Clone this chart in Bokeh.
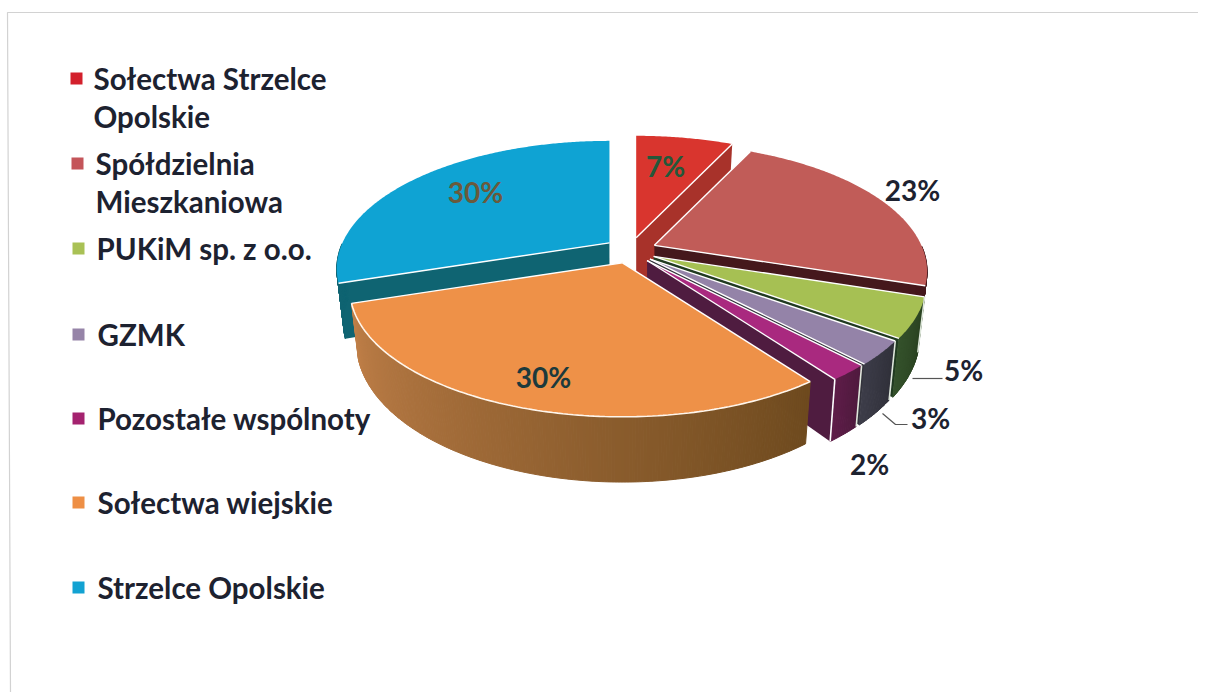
import numpy as np
from bokeh.plotting import figure
from bokeh.embed import file_html
from bokeh.resources import INLINE
from bokeh.core.properties import value

categories = ["Sołectwa Strzelce\nOpolskie", "Spółdzielnia\nMieszkaniowa", "PUKiM sp. z o.o.", "GZMK",
              "Pozostałe wspólnoty", "Sołectwa wiejskie", "Strzelce Opolskie"]
values = [7, 23, 5, 3, 2, 30, 30]

top_colors = ["#d9352e", "#c15c58", "#a6c053", "#9483a8", "#a9297f", "#ee9148", "#0fa3d3"]
legend_colors = ["#d3202c", "#c4555a", "#a9c155", "#9684a8", "#a4226f", "#ee8f45", "#12a2d2"]
radial_colors = ["#a8322a", "#45181c", "#203a20", "#33333c", "#4f1c40", "#8a5a28", "#0f6472"]
wall_left = ["#a8322a", "#45181c", "#33502a", "#3c3c48", "#5e1c48", "#c07f48", "#0f6472"]
wall_right = ["#a8322a", "#45181c", "#28401f", "#30303a", "#4f1a3e", "#6e4a1e", "#0f6472"]

legend_y = [78, 163, 248, 334, 418, 502, 587]
legend_text_x = [93, 95, 96, 97, 97, 97, 97]
label_pos = [(665, 165), (912, 189), (963, 369), (930, 417), (869, 463), (543, 376), (475, 191)]
label_colors = ["#24583a", "#1d2230", "#1d2230", "#1d2230", "#1d2230", "#1c3a3c", "#6a5a3c"]

CX, CY = 630, 250     # pie centre on the page
A, B, K = 267, 122.7, 0.203   # ellipse radii and perspective
EX, EY = 26, 13       # explosion
DEPTH = 52
W, H = 1198, 692

p = figure(width=W, height=H, x_range=(0, W), y_range=(H, 0),
           toolbar_location=None, output_backend="svg", min_border=0)
p.axis.visible = False
p.grid.visible = False
p.outline_line_color = None
p.background_fill_color = "#ffffff"
p.border_fill_color = "#ffffff"

FONT = value("Lato")


def proj(deg, ax, ay, r=1.0):
    t = np.radians(deg)
    u, v = np.sin(t) * r, np.cos(t) * r
    s = 1 / (1 + K * v)
    return ax + A * u * s, ay - B * v * s, s


def lower(x, y, s, ax):
    return x - 0.025 * (x - ax), y + DEPTH * s


def mix(c1, c2, f):
    a = [int(c1[i:i + 2], 16) for i in (1, 3, 5)]
    b = [int(c2[i:i + 2], 16) for i in (1, 3, 5)]
    return "#%02x%02x%02x" % tuple(int(round(a[i] + (b[i] - a[i]) * f)) for i in range(3))


total = sum(values)
edges = np.cumsum([0] + values) / total * 360
order = [6, 0, 1, 2, 3, 4, 5]    # back to front
for i in order:
    a0, a1 = edges[i], edges[i + 1]
    mid = np.radians((a0 + a1) / 2)
    ax, ay = CX + EX * np.sin(mid), CY - EY * np.cos(mid)
    angs = np.linspace(a0, a1, max(8, int((a1 - a0) * 2)))
    xs, ys, ss = proj(angs, ax, ay)

    # radial wall that faces the viewer
    wall_a = None
    if a1 <= 144.1:
        wall_a = a1
    elif a0 >= 180:
        wall_a = a0
    if wall_a is not None:
        x1, y1, s1 = proj(wall_a, ax, ay)
        xb, yb = lower(x1, y1, s1, ax)
        p.patch([ax, x1, xb, ax], [ay, y1, yb, ay + DEPTH], fill_color=radial_colors[i], line_color=None)

    # outer wall, front part only, in shaded strips (angles run right to left)
    vis = [a for a in angs if np.cos(np.radians(a)) < 0.0]
    if len(vis) > 1:
        vis = np.array(vis)
        vx, vy, vs = proj(vis, ax, ay)
        bx, by = lower(vx, vy, vs, ax)
        n = len(vis) - 1
        for j in range(n):
            f = 1 - j / max(n - 1, 1)
            col = mix(wall_left[i], wall_right[i], f)
            p.patch([vx[j], vx[j + 1], bx[j + 1], bx[j]], [vy[j], vy[j + 1], by[j + 1], by[j]],
                    fill_color=col, line_color=col, line_width=1)

    # top face
    p.patch(np.r_[ax, xs], np.r_[ay, ys], fill_color=top_colors[i], line_color=None)

# white edge lines, drawn from the same slices
for i in order:
    a0, a1 = edges[i], edges[i + 1]
    mid = np.radians((a0 + a1) / 2)
    ax, ay = CX + EX * np.sin(mid), CY - EY * np.cos(mid)
    for a in (a0, a1):
        if a in (0, 360):
            continue
        if i == 6 or i == 5 or a < 144.1:
            x1, y1, s1 = proj(a, ax, ay)
            p.line([ax, x1], [ay, y1], line_color="#ffffff", line_width=1.4)
    if a0 < 180 < a1:   # front rim
        angs = np.linspace(a0, a1, 120)
        xs, ys, ss = proj(angs, ax, ay)
        p.line(xs, ys, line_color="#fff6ec", line_width=1.6)
    if 100 < a0 < 140:  # vertical edge between outer walls
        x1, y1, s1 = proj(a0, ax, ay)
        xb, yb = lower(x1, y1, s1, ax)
        p.line([x1, xb], [y1, yb], line_color="#dfe8dc", line_width=1.6)
    if a1 == edges[5]:
        x1, y1, s1 = proj(a1, ax, ay)
        xb, yb = lower(x1, y1, s1, ax)
        p.line([x1, xb], [y1, yb], line_color="#ffffff", line_width=1.6)

# leader lines
p.line([912, 942], [378, 378], line_color="#555555", line_width=1.2)
p.line([882, 895, 907], [413, 424, 424], line_color="#555555", line_width=1.2)

# page frame
p.line([10, 7, W], [H, 12, 12], line_color="#d2d2d2", line_width=1.2)

# data labels
p.text([q[0] for q in label_pos], [q[1] for q in label_pos], text=[f"{v}%" for v in values],
       text_color=label_colors, text_font=FONT, text_font_style="bold", text_font_size="28px",
       text_align="center", text_baseline="middle")

# legend
p.scatter([76 + min(i, 2) for i in range(7)], legend_y, marker="square", size=12,
          fill_color=legend_colors, line_color=None)
for name, tx, ly in zip(categories, legend_text_x, legend_y):
    for k, line in enumerate(name.split("\n")):
        p.text([tx], [ly + k * 38], text=[line], text_color="#1d2230", text_font=FONT,
               text_font_style="bold", text_font_size="29.5px", text_align="left", text_baseline="middle")

open("out.html", "w").write(file_html(p, INLINE))
